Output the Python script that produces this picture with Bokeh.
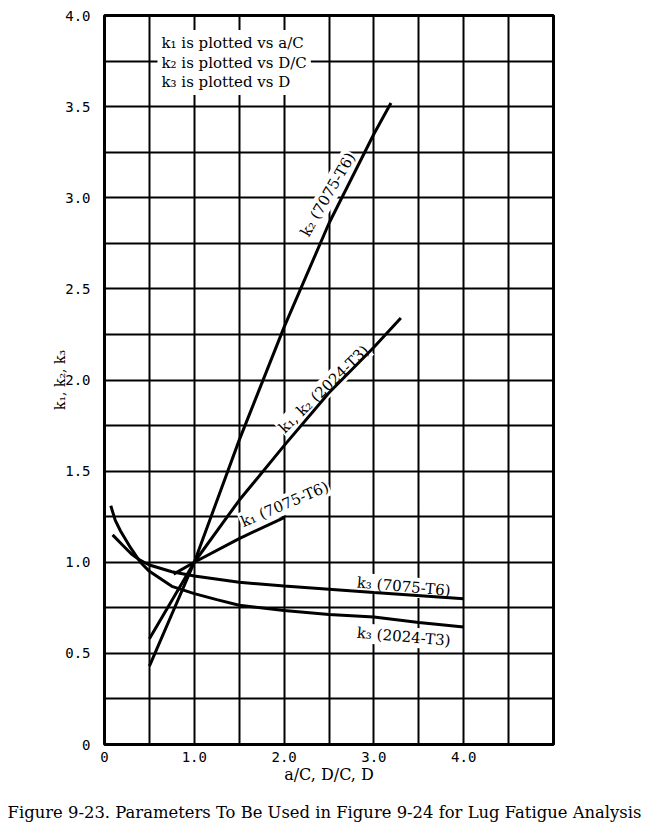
from bokeh.plotting import figure
from bokeh.models import FixedTicker, ColumnDataSource, Div, PrintfTickFormatter
from bokeh.layouts import column
from bokeh.core.properties import value
from bokeh.embed import file_html
from bokeh.resources import INLINE

# ---- data ----
k2_7075_x = [0.5, 1.0, 1.5, 2.0, 2.5, 3.0, 3.19]
k2_7075_y = [0.43, 1.0, 1.67, 2.29, 2.86, 3.35, 3.52]

k12_2024_x = [0.5, 1.0, 1.5, 2.0, 2.5, 3.0, 3.3]
k12_2024_y = [0.58, 1.0, 1.34, 1.64, 1.93, 2.18, 2.34]

k1_7075_x = [0.77, 1.0, 1.5, 2.0]
k1_7075_y = [0.935, 1.0, 1.13, 1.245]

k3_7075_x = [0.09, 0.2, 0.3, 0.4, 0.5, 0.75, 1.0, 1.5, 2.0, 3.0, 4.0]
k3_7075_y = [1.15, 1.095, 1.045, 1.01, 0.985, 0.948, 0.925, 0.89, 0.87, 0.834, 0.80]

k3_2024_x = [0.07, 0.12, 0.18, 0.29, 0.4, 0.5, 0.75, 1.0, 1.25, 1.5, 2.0, 2.5, 3.0, 3.5, 4.0]
k3_2024_y = [1.31, 1.23, 1.17, 1.08, 1.0, 0.95, 0.868, 0.828, 0.795, 0.764, 0.735, 0.713, 0.70, 0.67, 0.645]

x_ticks = [0, 1, 2, 3, 4]
x_tick_labels = {0: "0", 1: "1.0", 2: "2.0", 3: "3.0", 4: "4.0"}
y_ticks = [0, 0.5, 1.0, 1.5, 2.0, 2.5, 3.0, 3.5, 4.0]
x_grid = [0.5 * i for i in range(11)]
y_grid = [0.25 * i for i in range(17)]

curve_labels = ["k\u2082 (7075-T6)", "k\u2081, k\u2082 (2024-T3)", "k\u2081 (7075-T6)",
                "k\u2083 (7075-T6)", "k\u2083 (2024-T3)"]
label_x = [2.22, 1.96, 1.515, 2.80, 2.80]
label_y = [2.79, 1.72, 1.215, 0.889, 0.614]
label_angle = [60, 44, 23, -5, -5]

note_text = "k\u2081 is plotted vs a/C\nk\u2082 is plotted vs D/C\nk\u2083 is plotted vs D"
note_x = [0.59]
note_y = [3.92]

caption = "Figure 9-23. Parameters To Be Used in Figure 9-24 for Lug Fatigue Analysis"

W, H = 633, 797
LEFT, TOP, FW, FH = 104, 15, 449, 729
p = figure(width=W, height=H, x_range=(0, 5), y_range=(0, 4),
           output_backend="svg", toolbar_location=None,
           min_border_left=LEFT, min_border_right=W - LEFT - FW,
           min_border_top=TOP, min_border_bottom=H - TOP - FH,
           background_fill_color="white", border_fill_color="white")

p.xgrid.ticker = FixedTicker(ticks=x_grid)
p.ygrid.ticker = FixedTicker(ticks=y_grid)
for g in (p.xgrid, p.ygrid):
    g.grid_line_color = "black"
    g.grid_line_width = 2
    g.grid_line_alpha = 1.0

p.outline_line_color = "black"
p.outline_line_width = 3
p.outline_line_alpha = 1.0

p.xaxis.ticker = FixedTicker(ticks=x_ticks)
p.xaxis.major_label_overrides = x_tick_labels
p.yaxis.ticker = FixedTicker(ticks=y_ticks)
p.yaxis.formatter = PrintfTickFormatter(format="%.1f")
p.yaxis.major_label_overrides = {0: "0"}
for ax in (p.xaxis, p.yaxis):
    ax.axis_line_color = None
    ax.major_tick_line_color = None
    ax.minor_tick_line_color = None
    ax.major_label_text_font = "DejaVu Sans Mono"
    ax.major_label_text_font_size = "14px"
    ax.major_label_text_color = "black"
    ax.axis_label_text_font = "DejaVu Serif"
    ax.axis_label_text_font_style = "normal"
    ax.axis_label_text_color = "black"
p.xaxis.axis_label_text_font_size = "16px"
p.yaxis.axis_label_text_font_size = "14px"
p.xaxis.major_label_standoff = 1
p.yaxis.major_label_standoff = 8
p.xaxis.axis_label = "a/C, D/C, D"
p.yaxis.axis_label = "k\u2081, k\u2082, k\u2083"
p.xaxis.axis_label_standoff = 0
p.yaxis.axis_label_standoff = -6

# labels (drawn first so the curves sit on top of their white boxes)
src = ColumnDataSource(dict(x=label_x, y=label_y, text=curve_labels, angle=label_angle))
p.text(x="x", y="y", text="text", angle="angle", angle_units="deg", source=src,
       text_font=value("DejaVu Serif"), text_font_size="15px", text_color="black",
       text_align="left", text_baseline="alphabetic",
       background_fill_color="white", padding=1)

p.text(x=note_x, y=note_y, text=[note_text],
       text_font=value("DejaVu Serif"), text_font_size="15px", text_color="black",
       text_align="left", text_baseline="top", text_line_height=1.08,
       background_fill_color="white", padding=4)

for xs, ys in ((k2_7075_x, k2_7075_y), (k12_2024_x, k12_2024_y), (k1_7075_x, k1_7075_y),
               (k3_7075_x, k3_7075_y), (k3_2024_x, k3_2024_y)):
    p.line(xs, ys, line_color="black", line_width=3)

cap = Div(text=caption, width=639,
          styles={"font-family": "DejaVu Serif", "font-size": "16.4px",
                  "text-align": "center", "color": "black", "margin-top": "4px",
                  "white-space": "nowrap"})

layout = column(p, cap)
open("out.html", "w").write(file_html(layout, INLINE))
